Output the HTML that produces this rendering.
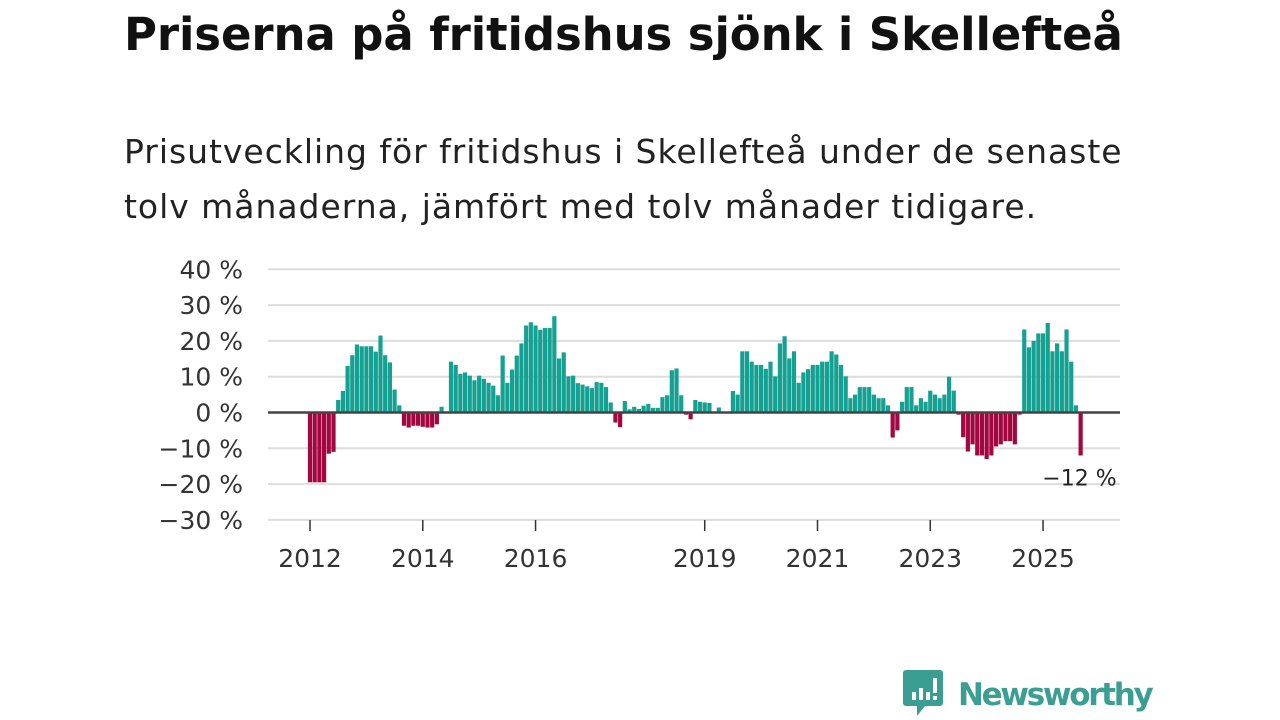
<!DOCTYPE html>
<html><head><meta charset="utf-8"><style>
body{margin:0;width:1280px;height:720px;background:#fff;overflow:hidden;font-family:"Liberation Sans","DejaVu Sans",sans-serif}
#title{position:absolute;left:124px;top:8px;font-size:45px;font-weight:bold;color:#111;margin:0;font-family:"DejaVu Sans","Liberation Sans",sans-serif;letter-spacing:-0.1px;white-space:nowrap}
#sub{position:absolute;left:124px;top:124px;width:1020px;font-size:33px;line-height:55px;color:#222;font-family:"DejaVu Sans","Liberation Sans",sans-serif;letter-spacing:0.97px}
svg{position:absolute;left:0;top:0}
#logo{position:absolute;left:903px;top:670px;display:flex;align-items:center}
</style></head><body>
<h1 id="title">Priserna på fritidshus sjönk i Skellefteå</h1>
<div id="sub">Prisutveckling för fritidshus i Skellefteå under de senaste tolv månaderna, jämfört med tolv månader tidigare.</div>
<svg id="chart" width="1280" height="720"></svg>
<div id="logo">
<svg width="40" height="50" style="position:static"><path d="M3 0h34a3 3 0 0 1 3 3v30a3 3 0 0 1-3 3H22l-8 10v-10H3a3 3 0 0 1-3-3V3a3 3 0 0 1 3-3z" fill="#3a9e92"/><rect x="9" y="22" width="4" height="8" fill="#fff"/><rect x="16" y="18" width="4" height="12" fill="#fff"/><rect x="23" y="22" width="4" height="8" fill="#fff"/><rect x="30" y="8" width="4" height="15" fill="#fff"/><rect x="30" y="26" width="4" height="4" fill="#fff"/></svg>
<span style="font-size:31px;font-weight:bold;color:#3a9e92;margin-left:15px;font-family:'DejaVu Sans','Liberation Sans',sans-serif;letter-spacing:-2.3px">Newsworthy</span>
</div>
<script>
const startYear = 2012;
const values = [-19.5,-19.5,-19.5,-19.5,-11.5,-11,3.5,6,13,16,19,18.5,18.5,18.5,17,21.5,16,14,6.4,2,
-3.7,-4.2,-3.7,-3.7,-4,-4.2,-4.2,-3.3,1.6,null,
14.2,13.3,10.8,11.2,10.3,9,10.3,9.4,8.3,7.5,4.8,15.9,8.3,12,15.9,19.3,24.3,25.2,24.3,23.1,
23.6,23.6,26.9,15.1,16.8,10.1,10.3,8.2,7.8,7.3,6.8,8.5,8.3,7.1,2.8,-2.8,-4.1,3.2,0.9,1.6,
1,1.9,2.4,1.3,1.3,4.3,4.8,11.8,12.3,4.8,-0.6,-1.9,3.5,3,2.8,2.7,null,1.4,null,null,
6,5,17.1,17.1,14.2,13.3,13.3,12.2,14.2,10.1,19.3,21.3,15.1,17.1,8.3,11.2,12.1,13.3,13.3,14.2,
14.2,17.1,16.2,13.3,10.1,4,5,7.1,7.1,7.1,5,4,4,2,-7,-5,3,7.1,7.1,2,
4,3,6.1,5,4,5,10,6.1,-0.6,-6.9,-10.9,-8.9,-12,-12,-13,-12,-9.5,-8.9,-8,-8,
-8.9,-0.6,23.2,18.2,20,22.1,22.1,25,17.1,19.3,17.1,23.2,14.2,2,-12];
const yTicks = [40,30,20,10,0,-10,-20,-30];
const xTickYears = [2012,2014,2016,2019,2021,2023,2025];
const lastLabel = "−12 %";

const svg = document.getElementById('chart');
const NS = 'http://www.w3.org/2000/svg';
const x0 = 310, pxMonth = 4.699;
const xScale = m => x0 + m * pxMonth;
const yScale = v => 412.5 - v * 3.58;
function mk(tag, attrs){const e=document.createElementNS(NS,tag);for(const k in attrs)e.setAttribute(k,attrs[k]);svg.appendChild(e);return e;}
yTicks.forEach(t=>{
  if(t!==0){const g=mk('line',{x1:268,x2:1120,y1:yScale(t),y2:yScale(t),stroke:'#ddd','stroke-width':2});
  
  }
  const l=mk('text',{x:243,y:yScale(t)+9,'text-anchor':'end','font-size':25,fill:'#333','font-family':'DejaVu Sans, Liberation Sans, sans-serif'});
  l.textContent=(t<0?'−'+(-t):t)+' %';
  
  
});
values.forEach((v,i)=>{
  if(v===null)return;
  const y=yScale(Math.max(v,0)),h=Math.abs(yScale(v)-yScale(0));
  const r=mk('rect',{x:xScale(i)-2.1,y:y,width:4.2,height:h,fill:v>=0?'#15a192':'#a3073f'});
  
  
});
const z=mk('line',{x1:268,x2:1120,y1:yScale(0),y2:yScale(0),stroke:'#444','stroke-width':2.5});


xTickYears.forEach(yr=>{
  const x=xScale((yr-startYear)*12);
  const t=mk('line',{x1:x,x2:x,y1:520,y2:531,stroke:'#333','stroke-width':1.5});
  
  
  const l=mk('text',{x:x,y:567,'text-anchor':'middle','font-size':25,fill:'#333','font-family':'DejaVu Sans, Liberation Sans, sans-serif'});
  l.textContent=yr;
  
  
});
const last=values.length-1;
const ll=mk('text',{x:xScale(last)+36,y:yScale(values[last])+30,'text-anchor':'end','font-size':22,fill:'#222','font-family':'DejaVu Sans, Liberation Sans, sans-serif'});
ll.textContent=lastLabel;


</script>
</body></html>
